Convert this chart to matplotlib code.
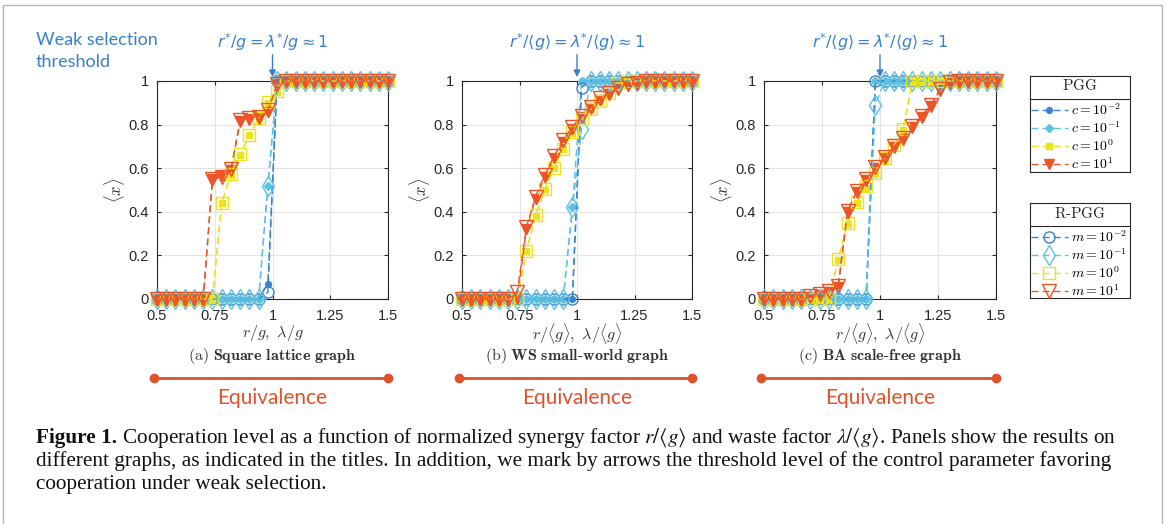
import matplotlib
matplotlib.use('Agg')
import matplotlib.pyplot as plt
from matplotlib.patches import Rectangle

plt.rcParams['mathtext.fontset'] = 'cm'
plt.rcParams['font.family'] = ['Liberation Sans', 'DejaVu Sans']

# normalized control parameter r/<g> (PGG) and lambda/<g> (R-PGG)
x = [0.50, 0.54, 0.58, 0.62, 0.66, 0.70, 0.74, 0.78, 0.82, 0.86, 0.90, 0.94, 0.98,
     1.02, 1.06, 1.10, 1.14, 1.18, 1.22, 1.26, 1.30, 1.34, 1.38, 1.42, 1.46, 1.50]

# (a) square lattice
sq_c001 = [0, 0, 0, 0, 0, 0, 0, 0, 0, 0, 0, 0, 0.07, 1, 1, 1, 1, 1, 1, 1, 1, 1, 1, 1, 1, 1]
sq_c01 = [0, 0, 0, 0, 0, 0, 0, 0, 0, 0, 0, 0, 0.52, 1, 1, 1, 1, 1, 1, 1, 1, 1, 1, 1, 1, 1]
sq_c1 = [0, 0, 0, 0, 0, 0, 0, 0.44, 0.57, 0.66, 0.75, 0.83, 0.90, 0.95, 1, 1, 1, 1, 1, 1, 1, 1, 1, 1, 1, 1]
sq_c10 = [0, 0, 0, 0, 0, 0, 0.55, 0.565, 0.59, 0.815, 0.825, 0.83, 0.86, 0.985, 1, 1, 1, 1, 1, 1, 1, 1, 1, 1, 1, 1]
sq_m001 = [0, 0, 0, 0, 0, 0, 0, 0, 0, 0, 0, 0, 0.03, 1, 1, 1, 1, 1, 1, 1, 1, 1, 1, 1, 1, 1]
sq_m01 = [0, 0, 0, 0, 0, 0, 0, 0, 0, 0, 0, 0, 0.52, 1, 1, 1, 1, 1, 1, 1, 1, 1, 1, 1, 1, 1]
sq_m1 = [0, 0, 0, 0, 0, 0, 0, 0.44, 0.575, 0.665, 0.75, 0.83, 0.905, 0.955, 1, 1, 1, 1, 1, 1, 1, 1, 1, 1, 1, 1]
sq_m10 = [0, 0, 0, 0, 0, 0, 0.55, 0.56, 0.595, 0.82, 0.83, 0.835, 0.865, 0.985, 1, 1, 1, 1, 1, 1, 1, 1, 1, 1, 1, 1]

# (b) WS small-world
ws_c001 = [0, 0, 0, 0, 0, 0, 0, 0, 0, 0, 0, 0, 0, 1, 1, 1, 1, 1, 1, 1, 1, 1, 1, 1, 1, 1]
ws_c01 = [0, 0, 0, 0, 0, 0, 0, 0, 0, 0, 0, 0, 0.42, 1, 1, 1, 1, 1, 1, 1, 1, 1, 1, 1, 1, 1]
ws_c1 = [0, 0, 0, 0, 0, 0, 0, 0.22, 0.38, 0.50, 0.60, 0.69, 0.76, 0.82, 0.87, 0.905, 0.94, 0.99, 1, 1, 1, 1, 1, 1, 1, 1]
ws_c10 = [0, 0, 0, 0, 0, 0, 0, 0.32, 0.46, 0.56, 0.645, 0.72, 0.78, 0.835, 0.875, 0.915, 0.94, 0.965, 0.98, 0.99, 1, 1, 1, 1, 1, 1]
ws_m001 = [0, 0, 0, 0, 0, 0, 0, 0, 0, 0, 0, 0, 0, 0.97, 1, 1, 1, 1, 1, 1, 1, 1, 1, 1, 1, 1]
ws_m01 = [0, 0, 0, 0, 0, 0, 0, 0, 0, 0, 0, 0, 0.42, 0.78, 1, 1, 1, 1, 1, 1, 1, 1, 1, 1, 1, 1]
ws_m1 = [0, 0, 0, 0, 0, 0, 0, 0.22, 0.385, 0.505, 0.60, 0.69, 0.765, 0.825, 0.87, 0.91, 0.945, 0.99, 1, 1, 1, 1, 1, 1, 1, 1]
ws_m10 = [0, 0, 0, 0, 0, 0, 0.03, 0.33, 0.47, 0.57, 0.655, 0.73, 0.79, 0.84, 0.88, 0.92, 0.945, 0.97, 0.985, 0.99, 1, 1, 1, 1, 1, 1]

# (c) BA scale-free
ba_c001 = [0, 0, 0, 0, 0, 0, 0, 0, 0, 0, 0, 0, 1, 1, 1, 1, 1, 1, 1, 1, 1, 1, 1, 1, 1, 1]
ba_c01 = [0, 0, 0, 0, 0, 0, 0, 0, 0, 0, 0, 0, 1, 1, 1, 1, 1, 1, 1, 1, 1, 1, 1, 1, 1, 1]
ba_c1 = [0, 0, 0, 0, 0, 0, 0, 0, 0.18, 0.345, 0.44, 0.51, 0.575, 0.64, 0.70, 0.775, 1, 1, 1, 1, 1, 1, 1, 1, 1, 1]
ba_c10 = [0, 0, 0, 0, 0, 0.01, 0.02, 0.03, 0.055, 0.40, 0.49, 0.545, 0.60, 0.645, 0.695, 0.735, 0.79, 0.835, 0.885, 0.96, 0.99, 1, 1, 1, 1, 1]
ba_m001 = [0, 0, 0, 0, 0, 0, 0, 0, 0, 0, 0, 0, 1, 1, 1, 1, 1, 1, 1, 1, 1, 1, 1, 1, 1, 1]
ba_m01 = [0, 0, 0, 0, 0, 0, 0, 0, 0, 0, 0, 0, 0.89, 1, 1, 1, 1, 1, 1, 1, 1, 1, 1, 1, 1, 1]
ba_m1 = [0, 0, 0, 0, 0, 0, 0, 0, 0.185, 0.35, 0.445, 0.52, 0.58, 0.645, 0.705, 0.78, 1, 1, 1, 1, 1, 1, 1, 1, 1, 1]
ba_m10 = [0, 0, 0, 0, 0, 0.015, 0.025, 0.035, 0.06, 0.405, 0.495, 0.55, 0.605, 0.65, 0.70, 0.74, 0.795, 0.84, 0.89, 0.965, 0.995, 1, 1, 1, 1, 1]

pgg_labels = [r'$c=10^{-2}$', r'$c=10^{-1}$', r'$c=10^{0}$', r'$c=10^{1}$']
rpgg_labels = [r'$m=10^{-2}$', r'$m=10^{-1}$', r'$m=10^{0}$', r'$m=10^{1}$']
titles = [r'$\mathrm{(a)}\ \mathbf{Square\ lattice\ graph}$',
          r'$\mathrm{(b)}\ \mathbf{WS\ small\text{-}world\ graph}$',
          r'$\mathrm{(c)}\ \mathbf{BA\ scale\text{-}free\ graph}$']
xlabels = [r'$r/g,\ \lambda/g$', r'$r/\langle g\rangle,\ \lambda/\langle g\rangle$',
           r'$r/\langle g\rangle,\ \lambda/\langle g\rangle$']
thresholds = [r'$r^{*}/g=\lambda^{*}/g\approx 1$',
              r'$r^{*}/\langle g\rangle=\lambda^{*}/\langle g\rangle\approx 1$',
              r'$r^{*}/\langle g\rangle=\lambda^{*}/\langle g\rangle\approx 1$']
xticks = [0.5, 0.75, 1, 1.25, 1.5]
xticklabels = ['0.5', '0.75', '1', '1.25', '1.5']
yticks = [0, 0.2, 0.4, 0.6, 0.8, 1]
yticklabels = ['0', '0.2', '0.4', '0.6', '0.8', '1']

panels = [
    ([sq_c001, sq_c01, sq_c1, sq_c10], [sq_m001, sq_m01, sq_m1, sq_m10]),
    ([ws_c001, ws_c01, ws_c1, ws_c10], [ws_m001, ws_m01, ws_m1, ws_m10]),
    ([ba_c001, ba_c01, ba_c1, ba_c10], [ba_m001, ba_m01, ba_m1, ba_m10]),
]

colors = ['#3a82cf', '#5cc2e4', '#ece21e', '#ec5428']
pgg_marks = [('o', 4.2), ('D', 4.2), ('s', 4.6), ('v', 7)]
rpgg_marks = [('o', 8), ('d', 10), ('s', 8.5), ('v', 10.5)]
blue_txt = '#3a80c8'
eq_col = '#e0522c'

W, H = 1167, 524
fig = plt.figure(figsize=(W / 100, H / 100), dpi=100)

lefts = [157, 462, 764]
widths = [231, 230, 232]
ax_top, ax_bot = 81, 299

pgg_handles, rpgg_handles = [], []
for i, (pgg, rpgg) in enumerate(panels):
    ax = fig.add_axes([lefts[i] / W, (H - ax_bot) / H, widths[i] / W, (ax_bot - ax_top) / H])
    for j, y in enumerate(pgg):
        mk, ms = pgg_marks[j]
        ln, = ax.plot(x, y, ls='--', dashes=(5, 3), lw=1.0, color=colors[j],
                      marker=mk, ms=ms, mfc=colors[j], mec=colors[j], clip_on=False, zorder=3)
        if i == 0:
            pgg_handles.append(ln)
    for j, y in enumerate(rpgg):
        mk, ms = rpgg_marks[j]
        ln, = ax.plot(x, y, ls='--', dashes=(5, 3), lw=1.0, color=colors[j],
                      marker=mk, ms=ms, mfc='none', mec=colors[j], mew=1.0, clip_on=False, zorder=4)
        if i == 0:
            rpgg_handles.append(ln)

    ax.set_xlim(0.5, 1.5)
    ax.set_ylim(0, 1)
    ax.set_xticks(xticks)
    ax.set_xticklabels(xticklabels)
    ax.set_yticks(yticks)
    ax.set_yticklabels(yticklabels)
    ax.tick_params(direction='in', top=True, right=True, length=3, width=0.8,
                   labelsize=10.5, colors='#262626')
    ax.tick_params(axis='x', pad=7)
    ax.tick_params(axis='y', pad=6)
    ax.grid(True, color='#e4e4e4', lw=0.8)
    ax.set_axisbelow(True)
    for s in ax.spines.values():
        s.set_color('#262626')
        s.set_linewidth(0.8)
    ax.set_ylabel(r'$\langle x\rangle$', fontsize=12, labelpad=1, color='#262626')
    ax.text(0.5, -0.158, xlabels[i], transform=ax.transAxes, ha='center', va='center',
            fontsize=11.5, color='#333333')
    ax.text(0.5, -0.262, titles[i], transform=ax.transAxes, ha='center', va='center',
            fontsize=11.5, color='#333333')

    # weak selection threshold arrow
    ax.annotate('', xy=(1.0, 1.005), xytext=(1.0, 1.133), xycoords='data',
                arrowprops=dict(arrowstyle='-|>', color=blue_txt, lw=1.0, mutation_scale=10),
                annotation_clip=False)
    ax.text(1.0, 1.179, thresholds[i], ha='center', va='center', fontsize=11.5,
            color=blue_txt, math_fontfamily='dejavusans')

    # equivalence bar
    ax.plot([-0.013, 1.0], [-0.362, -0.362], transform=ax.transAxes, color=eq_col, lw=2,
            marker='o', ms=6, clip_on=False)
    ax.text(0.5, -0.455, 'Equivalence', transform=ax.transAxes, ha='center', va='center',
            fontsize=15, color=eq_col, family='Lato')

fig.text(36 / W, 1 - 40 / H, 'Weak selection', fontsize=13, color=blue_txt,
         family='Lato', va='center')
fig.text(36 / W, 1 - 62 / H, 'threshold', fontsize=13, color=blue_txt,
         family='Lato', va='center')


# legend boxes with a title row separated by a rule
def legend_box(top, bot, title, handles, labels):
    lx = fig.add_axes([1030 / W, (H - bot) / H, 100 / W, (bot - top) / H])
    lx.set_xticks([])
    lx.set_yticks([])
    for s in lx.spines.values():
        s.set_color('#262626')
        s.set_linewidth(0.8)
    h = bot - top
    lx.text(0.5, (h - 10) / h, title, transform=lx.transAxes, ha='center', va='center',
            fontsize=11, color='#262626')
    lx.axhline((h - 23) / h, color='#262626', lw=0.8)
    lx.legend(handles, labels, loc='upper left', bbox_to_anchor=(0.0, (h - 25) / h),
              frameon=False, fontsize=10, handlelength=2.6, handletextpad=0.25,
              labelspacing=0.18, borderpad=0.1, borderaxespad=0.0)


legend_box(76, 172, r'$\mathrm{PGG}$', pgg_handles, pgg_labels)
legend_box(203, 298, r'$\mathrm{R\text{-}PGG}$', rpgg_handles, rpgg_labels)

# caption
cap_kw = dict(fontsize=15.3, family='Liberation Serif', color='#111111', math_fontfamily='stix')
t1 = fig.text(36 / W, 1 - 438 / H, 'Figure 1.', fontweight='bold', va='center', **cap_kw)
fig.add_artist(plt.Annotation(
    ' Cooperation level as a function of normalized synergy factor $r/\\langle g\\rangle$ '
    'and waste factor $\\lambda/\\langle g\\rangle$. Panels show the results on',
    xy=(1, 0.5), xycoords=t1, va='center', ha='left', **cap_kw))
fig.text(36 / W, 1 - 461 / H, 'different graphs, as indicated in the titles. In addition, we mark by '
         'arrows the threshold level of the control parameter favoring', va='center', **cap_kw)
fig.text(36 / W, 1 - 484 / H, 'cooperation under weak selection.', va='center', **cap_kw)

fig.add_artist(Rectangle((3 / W, -0.02), 1159 / W, (H - 5) / H + 0.02, transform=fig.transFigure,
                         fill=False, ec='#b4b4b4', lw=1.0))

fig.savefig('out.png', dpi=100)
